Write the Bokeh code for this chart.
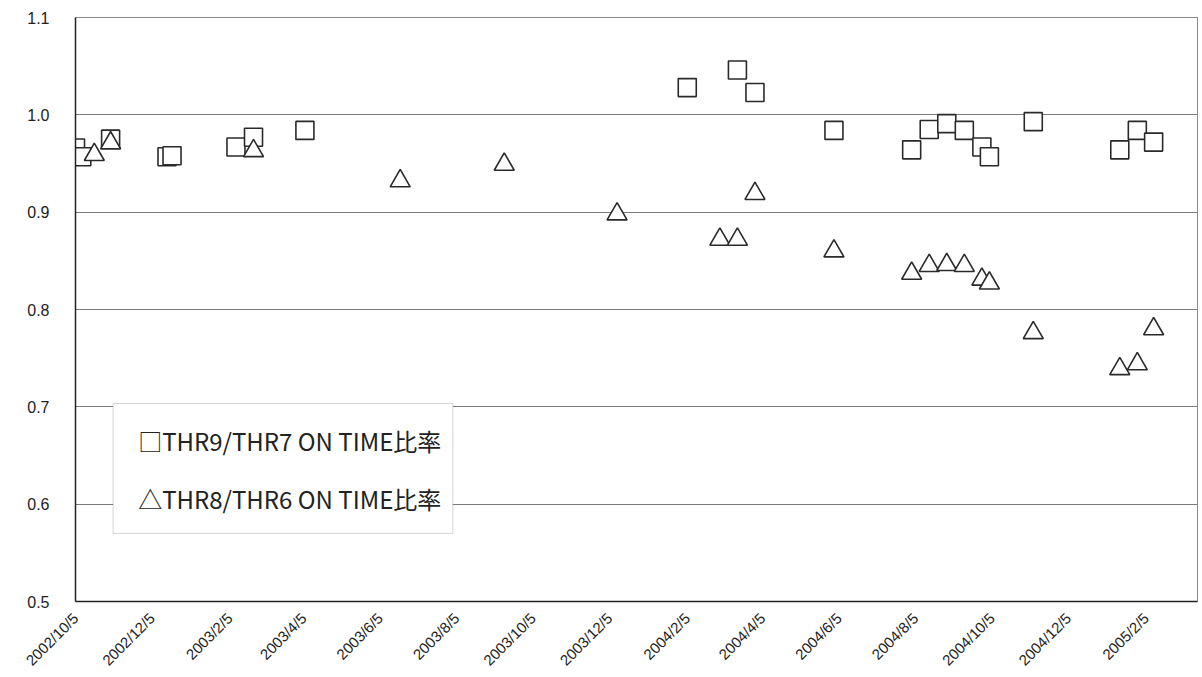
import math
from datetime import datetime
from bokeh.plotting import figure
from bokeh.models import FixedTicker, Range1d, BoxAnnotation, Label, PrintfTickFormatter
from bokeh.embed import file_html
from bokeh.resources import INLINE

# ---- data ----
sq_dates = ["2002/10/5", "2002/10/10", "2002/11/2", "2002/12/17", "2002/12/21",
            "2003/2/10", "2003/2/24", "2003/4/6", "2004/2/5", "2004/3/16",
            "2004/3/30", "2004/6/1", "2004/8/2", "2004/8/16", "2004/8/30",
            "2004/9/13", "2004/9/27", "2004/10/3", "2004/11/7", "2005/1/15",
            "2005/1/29", "2005/2/11"]
sq_values = [0.966, 0.957, 0.975, 0.957, 0.958,
             0.967, 0.977, 0.984, 1.028, 1.046,
             1.023, 0.984, 0.964, 0.985, 0.991,
             0.984, 0.967, 0.957, 0.993, 0.964,
             0.984, 0.972]

tri_dates = ["2002/10/20", "2002/11/2", "2003/2/24", "2003/6/21", "2003/9/12",
             "2003/12/11", "2004/3/2", "2004/3/16", "2004/3/30", "2004/6/1",
             "2004/8/2", "2004/8/16", "2004/8/30", "2004/9/13", "2004/9/27",
             "2004/10/3", "2004/11/7", "2005/1/15", "2005/1/29", "2005/2/11"]
tri_values = [0.959, 0.971, 0.963, 0.932, 0.949,
              0.898, 0.872, 0.872, 0.919, 0.860,
              0.837, 0.845, 0.846, 0.845, 0.831,
              0.827, 0.776, 0.739, 0.744, 0.780]

tick_labels = ["2002/10/5", "2002/12/5", "2003/2/5", "2003/4/5", "2003/6/5",
               "2003/8/5", "2003/10/5", "2003/12/5", "2004/2/5", "2004/4/5",
               "2004/6/5", "2004/8/5", "2004/10/5", "2004/12/5", "2005/2/5"]
y_ticks = [0.5, 0.6, 0.7, 0.8, 0.9, 1.0, 1.1]

legend_labels = ["□THR9/THR7 ON TIME比率", "△THR8/THR6 ON TIME比率"]

EPOCH = datetime(1970, 1, 1)


def ms(s):
    return (datetime.strptime(s, "%Y/%m/%d") - EPOCH).total_seconds() * 1000.0


sq_x = [ms(d) for d in sq_dates]
tri_x = [ms(d) for d in tri_dates]
tick_ms = [ms(t) for t in tick_labels]

x_start = ms("2002/10/5")
x_end = ms("2005/3/18")

p = figure(width=1202, height=677, output_backend="svg", toolbar_location=None,
           x_axis_type="datetime",
           x_range=Range1d(x_start, x_end), y_range=Range1d(0.5, 1.1),
           min_border_left=75, min_border_right=5, min_border_top=17,
           min_border_bottom=76)
p.background_fill_color = "white"
p.border_fill_color = "white"
p.outline_line_color = "#8a8a8a"
p.outline_line_width = 1

# grid
p.xgrid.grid_line_color = None
p.ygrid.grid_line_color = "#7a7a7a"
p.ygrid.grid_line_width = 1
p.ygrid.ticker = FixedTicker(ticks=y_ticks)

# axes
p.xaxis.ticker = FixedTicker(ticks=tick_ms)
p.xaxis.major_label_overrides = {t: l for t, l in zip(tick_ms, tick_labels)}
p.xaxis.major_label_orientation = math.pi / 4
p.xaxis.major_label_text_font = "Liberation Sans"
p.xaxis.major_label_text_font_size = "15px"
p.xaxis.major_label_text_color = "#222222"
p.xaxis.major_label_standoff = 8

p.yaxis.ticker = FixedTicker(ticks=y_ticks)
p.yaxis.formatter = PrintfTickFormatter(format="%.1f")
p.yaxis.major_label_text_font = "Liberation Sans"
p.yaxis.major_label_text_font_size = "16px"
p.yaxis.major_label_text_color = "#222222"
p.yaxis.major_label_standoff = 20

for ax in (p.xaxis[0], p.yaxis[0]):
    ax.axis_line_color = "#222222"
    ax.axis_line_width = 1.5
    ax.major_tick_line_color = None
    ax.minor_tick_line_color = None

# markers
p.scatter(sq_x, sq_values, marker="square", size=18, fill_color="white",
          line_color="#2a2a2a", line_width=1.6)
p.scatter(tri_x, tri_values, marker="triangle", size=20, fill_color="white",
          line_color="#2a2a2a", line_width=1.6)

# legend-like text box
box = BoxAnnotation(left=ms("2002/11/4"), right=ms("2003/8/2"),
                    top=0.7035, bottom=0.570,
                    fill_color="white", fill_alpha=1.0,
                    line_color="#777777", line_width=1)
p.add_layout(box)

for lbl, yv in zip(legend_labels, [0.6655, 0.606]):
    p.add_layout(Label(x=ms("2002/11/24"), y=yv, text=lbl,
                       text_font="Noto Sans CJK JP", text_font_size="24px",
                       text_color="#222222", text_baseline="middle",
                       text_align="left"))

open("out.html", "w").write(file_html(p, INLINE))
